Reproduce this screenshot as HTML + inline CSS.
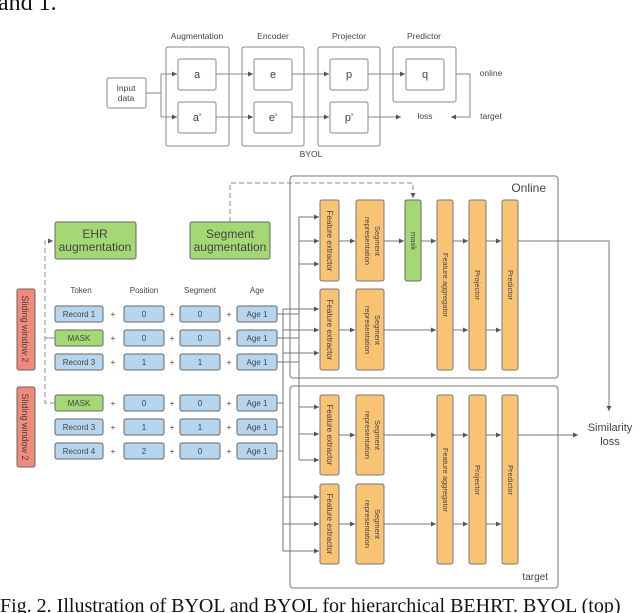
<!DOCTYPE html>
<html><head><meta charset="utf-8"><style>
body{margin:0;background:#fff;width:640px;height:613px;overflow:hidden}
svg{display:block}
text{font-family:"Liberation Sans",sans-serif;fill:#444}
</style></head><body>
<svg width="640" height="613" viewBox="0 0 640 613" xmlns="http://www.w3.org/2000/svg">
<defs>
<marker id="ar" markerWidth="6" markerHeight="6" refX="5" refY="3" orient="auto"><path d="M0,0.5 L5,3 L0,5.5z" fill="#555"/></marker>
</defs>
<text x="-2" y="10" style="font-family:'Liberation Serif',serif;fill:#111" font-size="24">and 1.</text>
<text x="0" y="612" style="font-family:'Liberation Serif',serif;fill:#111" font-size="20">Fig. 2. Illustration of BYOL and BYOL for hierarchical BEHRT. BYOL (top)</text>

<g stroke="#888" fill="none" stroke-width="1">
<rect x="107" y="78" width="39" height="30" rx="2"/>
<rect x="166" y="47" width="63" height="99" rx="2"/>
<rect x="242" y="47" width="62" height="99" rx="2"/>
<rect x="318" y="47" width="62" height="99" rx="2"/>
<rect x="393" y="47" width="63" height="55" rx="2"/>
<rect x="178" y="59" width="38" height="31" rx="2"/><rect x="178" y="102" width="38" height="31" rx="2"/>
<rect x="254" y="59" width="38" height="31" rx="2"/><rect x="254" y="102" width="38" height="31" rx="2"/>
<rect x="330" y="59" width="38" height="31" rx="2"/><rect x="330" y="102" width="38" height="31" rx="2"/>
<rect x="406" y="59" width="38" height="31" rx="2"/>
<path d="M146,93 H161 M161,74 V117"/>
<path d="M161,74 H177" marker-end="url(#ar)"/><path d="M161,117 H177" marker-end="url(#ar)"/>
<path d="M216,74 H253" marker-end="url(#ar)"/><path d="M216,117 H253" marker-end="url(#ar)"/>
<path d="M292,74 H329" marker-end="url(#ar)"/><path d="M292,117 H329" marker-end="url(#ar)"/>
<path d="M368,74 H405" marker-end="url(#ar)"/><path d="M368,117 H401" marker-end="url(#ar)"/>
<path d="M456,74 H470 V117 H451" marker-end="url(#ar)"/>
</g>
<g font-size="8.5" text-anchor="middle">
<text x="197" y="39">Augmentation</text><text x="273" y="39">Encoder</text><text x="349" y="39">Projector</text><text x="424" y="39">Predictor</text>
<text x="126" y="91">Input</text><text x="126" y="101">data</text>
<text x="197" y="78" font-size="11">a</text><text x="197" y="121" font-size="11">a'</text>
<text x="273" y="78" font-size="11">e</text><text x="273" y="121" font-size="11">e'</text>
<text x="349" y="78" font-size="11">p</text><text x="349" y="121" font-size="11">p'</text>
<text x="425" y="78" font-size="11">q</text>
<text x="425" y="119">loss</text><text x="491" y="76">online</text><text x="491" y="119">target</text>
<text x="311" y="157">BYOL</text>
</g>

<g stroke="#777" fill="none">
<rect x="290" y="176" width="268" height="202" rx="3"/>
<rect x="290" y="386" width="268" height="202" rx="3"/>
</g>
<text x="546" y="192" font-size="12" text-anchor="end">Online</text>
<text x="548" y="580" font-size="10" text-anchor="end">target</text>
<text x="610" y="431" font-size="11" text-anchor="middle">Similarity</text>
<text x="610" y="445" font-size="11" text-anchor="middle">loss</text>

<g stroke="#666" fill="#a4d874">
<rect x="55" y="222" width="81" height="37" rx="2"/>
<rect x="190" y="222" width="80" height="37" rx="2"/>
</g>
<g font-size="12" text-anchor="middle">
<text x="95" y="238">EHR</text><text x="95" y="251">augmentation</text>
<text x="230" y="238">Segment</text><text x="230" y="251">augmentation</text>
</g>
<g stroke="#666" fill="#f08a7a">
<rect x="17" y="289" width="18" height="81" rx="2"/>
<rect x="17" y="387" width="18" height="80" rx="2"/>
</g>
<g font-size="9">
<text transform="translate(22,329) rotate(90)" text-anchor="middle">Sliding window 2</text>
<text transform="translate(22,427) rotate(90)" text-anchor="middle">Sliding window 2</text>
</g>
<g font-size="8" text-anchor="middle">
<text x="81" y="293">Token</text><text x="144" y="293">Position</text><text x="200" y="293">Segment</text><text x="257" y="293">Age</text>
</g>
<g font-size="8" text-anchor="middle" stroke-width="1">
<g stroke="#666" fill="#b5d6ee">
<rect x="55" y="306" width="48" height="16" rx="2"/><rect x="55" y="354" width="48" height="16" rx="2"/>
<rect x="55" y="419" width="48" height="16" rx="2"/><rect x="55" y="443" width="48" height="16" rx="2"/>
</g>
<g stroke="#666" fill="#a4d874">
<rect x="55" y="330" width="48" height="16" rx="2"/><rect x="55" y="395" width="48" height="16" rx="2"/>
</g>
<g stroke="#666" fill="#b5d6ee">
<rect x="124" y="306" width="40" height="16" rx="2"/><rect x="124" y="330" width="40" height="16" rx="2"/><rect x="124" y="354" width="40" height="16" rx="2"/>
<rect x="124" y="395" width="40" height="16" rx="2"/><rect x="124" y="419" width="40" height="16" rx="2"/><rect x="124" y="443" width="40" height="16" rx="2"/>
<rect x="180" y="306" width="40" height="16" rx="2"/><rect x="180" y="330" width="40" height="16" rx="2"/><rect x="180" y="354" width="40" height="16" rx="2"/>
<rect x="180" y="395" width="40" height="16" rx="2"/><rect x="180" y="419" width="40" height="16" rx="2"/><rect x="180" y="443" width="40" height="16" rx="2"/>
<rect x="237" y="306" width="40" height="16" rx="2"/><rect x="237" y="330" width="40" height="16" rx="2"/><rect x="237" y="354" width="40" height="16" rx="2"/>
<rect x="237" y="395" width="40" height="16" rx="2"/><rect x="237" y="419" width="40" height="16" rx="2"/><rect x="237" y="443" width="40" height="16" rx="2"/>
</g>
<text x="79" y="317">Record 1</text><text x="79" y="341">MASK</text><text x="79" y="365">Record 3</text>
<text x="79" y="406">MASK</text><text x="79" y="430">Record 3</text><text x="79" y="454">Record 4</text>
<text x="144" y="317">0</text><text x="144" y="341">0</text><text x="144" y="365">1</text>
<text x="144" y="406">0</text><text x="144" y="430">1</text><text x="144" y="454">2</text>
<text x="200" y="317">0</text><text x="200" y="341">0</text><text x="200" y="365">1</text>
<text x="200" y="406">0</text><text x="200" y="430">1</text><text x="200" y="454">0</text>
<text x="257" y="317">Age 1</text><text x="257" y="341">Age 1</text><text x="257" y="365">Age 1</text>
<text x="257" y="406">Age 1</text><text x="257" y="430">Age 1</text><text x="257" y="454">Age 1</text>
<g fill="#555"><text x="113" y="317">+</text><text x="113" y="341">+</text><text x="113" y="365">+</text><text x="113" y="406">+</text><text x="113" y="430">+</text><text x="113" y="454">+</text>
<text x="172" y="317">+</text><text x="172" y="341">+</text><text x="172" y="365">+</text><text x="172" y="406">+</text><text x="172" y="430">+</text><text x="172" y="454">+</text>
<text x="229" y="317">+</text><text x="229" y="341">+</text><text x="229" y="365">+</text><text x="229" y="406">+</text><text x="229" y="430">+</text><text x="229" y="454">+</text></g>
</g>

<g stroke="#888" fill="none" stroke-dasharray="5,3">
<path d="M55,403 H45 V241 H53" marker-end="url(#ar)"/>
<path d="M230,222 V183 H413 V198" marker-end="url(#ar)"/>
</g>
<path d="M45,338 H55" stroke="#888"/>

<g stroke="#777" fill="#f9c374">
<rect x="320" y="200" width="19" height="81" rx="2"/><rect x="356" y="200" width="28" height="81" rx="2"/>
<rect x="320" y="289" width="19" height="81" rx="2"/><rect x="356" y="289" width="28" height="81" rx="2"/>
<rect x="437" y="200" width="16" height="170" rx="2"/><rect x="469" y="200" width="17" height="170" rx="2"/><rect x="502" y="200" width="16" height="170" rx="2"/>
<rect x="320" y="395" width="19" height="80" rx="2"/><rect x="356" y="395" width="28" height="80" rx="2"/>
<rect x="320" y="484" width="19" height="80" rx="2"/><rect x="356" y="484" width="28" height="80" rx="2"/>
<rect x="437" y="395" width="16" height="169" rx="2"/><rect x="469" y="395" width="17" height="169" rx="2"/><rect x="502" y="395" width="16" height="169" rx="2"/>
</g>
<rect x="405" y="200" width="16" height="81" rx="2" stroke="#666" fill="#a4d874"/>
<g font-size="8" text-anchor="middle">
<text transform="translate(327,241) rotate(90)" y="0">Feature extractor</text>
<text transform="translate(327,330) rotate(90)">Feature extractor</text>
<text transform="translate(327,435) rotate(90)">Feature extractor</text>
<text transform="translate(327,524) rotate(90)">Feature extractor</text>
<g font-size="7.5">
<text transform="translate(375,241) rotate(90)">Segment</text><text transform="translate(365,241) rotate(90)">representation</text>
<text transform="translate(375,330) rotate(90)">Segment</text><text transform="translate(365,330) rotate(90)">representation</text>
<text transform="translate(375,435) rotate(90)">Segment</text><text transform="translate(365,435) rotate(90)">representation</text>
<text transform="translate(375,524) rotate(90)">Segment</text><text transform="translate(365,524) rotate(90)">representation</text>
<text transform="translate(411,241) rotate(90)">mask</text>
<text transform="translate(443,285) rotate(90)">Feature aggregator</text>
<text transform="translate(475,285) rotate(90)">Projector</text>
<text transform="translate(508,285) rotate(90)">Predictor</text>
<text transform="translate(443,480) rotate(90)">Feature aggregator</text>
<text transform="translate(475,480) rotate(90)">Projector</text>
<text transform="translate(508,480) rotate(90)">Predictor</text>
</g></g>

<g stroke="#777" fill="none">
<path d="M339,241 H355" marker-end="url(#ar)"/><path d="M384,241 H404" marker-end="url(#ar)"/>
<path d="M421,241 H436" marker-end="url(#ar)"/><path d="M453,241 H468" marker-end="url(#ar)"/><path d="M486,241 H501" marker-end="url(#ar)"/>
<path d="M339,330 H355" marker-end="url(#ar)"/><path d="M384,330 H436" marker-end="url(#ar)"/>
<path d="M453,330 H468" marker-end="url(#ar)"/><path d="M486,330 H501" marker-end="url(#ar)"/>
<path d="M339,435 H355" marker-end="url(#ar)"/><path d="M384,435 H436" marker-end="url(#ar)"/>
<path d="M453,435 H468" marker-end="url(#ar)"/><path d="M486,435 H501" marker-end="url(#ar)"/>
<path d="M339,524 H355" marker-end="url(#ar)"/><path d="M384,524 H436" marker-end="url(#ar)"/>
<path d="M453,524 H468" marker-end="url(#ar)"/><path d="M486,524 H501" marker-end="url(#ar)"/>
<path d="M518,241 H609 V411" marker-end="url(#ar)"/>
<path d="M518,435 H578" marker-end="url(#ar)"/>
<path d="M299,460 V217 H319" marker-end="url(#ar)"/>
<path d="M299,241 H319" marker-end="url(#ar)"/><path d="M299,264 H319" marker-end="url(#ar)"/>
<path d="M299,407 H319" marker-end="url(#ar)"/><path d="M299,434 H319" marker-end="url(#ar)"/><path d="M299,460 H319" marker-end="url(#ar)"/>
<path d="M277,314 H299 M277,338 H299 M277,362 H299"/>
<path d="M283,309 V353"/>
<path d="M283,309 H319" marker-end="url(#ar)"/><path d="M283,330 H319" marker-end="url(#ar)"/><path d="M283,353 H319" marker-end="url(#ar)"/>
<path d="M277,403 H283 M277,427 H283 M277,451 H283"/>
<path d="M283,353 V551"/>
<path d="M283,497 H319" marker-end="url(#ar)"/><path d="M283,524 H319" marker-end="url(#ar)"/><path d="M283,551 H319" marker-end="url(#ar)"/>
</g>
</svg>
</body></html>
